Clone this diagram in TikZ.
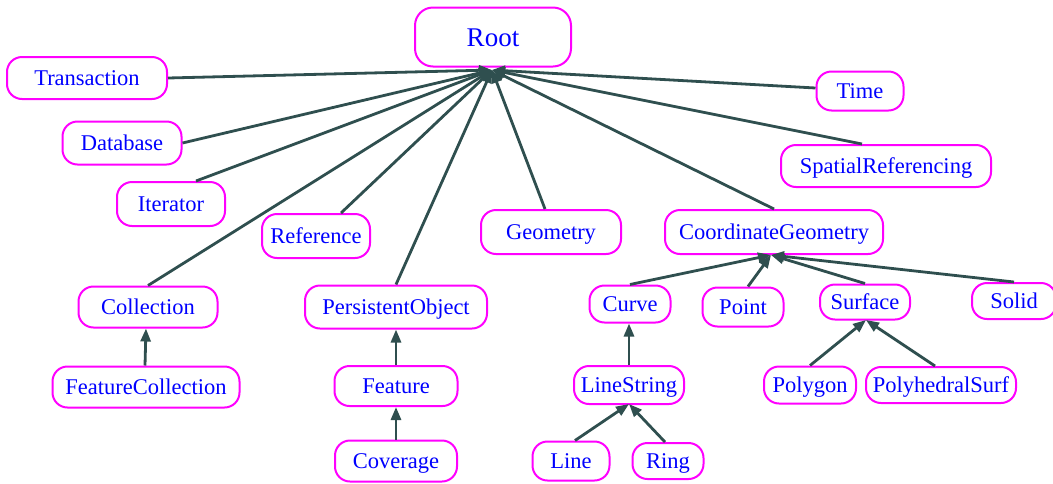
\documentclass[tikz,border=0pt]{standalone}
\usepackage{fontspec}
\setmainfont{Liberation Serif}
\usetikzlibrary{arrows.meta}
\definecolor{edgegray}{RGB}{47,79,79}
\definecolor{boxmagenta}{RGB}{255,0,255}
\definecolor{textblue}{RGB}{0,0,255}
\begin{document}
\begin{tikzpicture}[x=1pt,y=-1pt,
    cls/.style={draw=boxmagenta, line width=2pt, rounded corners=15pt, text=textblue,
      font=\fontsize{22.5}{24}\selectfont, inner sep=0pt, fill=white,
      text height=15pt, text depth=0pt},
    isa/.style={draw=edgegray, line width=2.8pt,
      -{Triangle[length=13pt,width=10pt]}}]
\useasboundingbox (0,0) rectangle (1053,483);
{
% Drawing class nodes
\node[cls, minimum width=156pt, minimum height=59pt, rounded corners=18pt,
  font=\fontsize{27}{30}\selectfont, text height=18pt] (root) at (493,37) {Root};
\node[cls, minimum width=160pt, minimum height=42pt] (transaction) at (87,78) {Transaction};
\node[cls, minimum width=87pt, minimum height=39pt] (time) at (860,91) {Time};
\node[cls, minimum width=119pt, minimum height=43pt] (database) at (122,143) {Database};
\node[cls, minimum width=210pt, minimum height=42pt] (spatialref) at (886,166) {SpatialReferencing};
\node[cls, minimum width=108pt, minimum height=44pt] (iterator) at (171,204) {Iterator};
\node[cls, minimum width=108pt, minimum height=44pt] (reference) at (316,236) {Reference};
\node[cls, minimum width=140pt, minimum height=44pt] (geometry) at (551,232) {Geometry};
\node[cls, minimum width=218pt, minimum height=44pt] (coordgeom) at (774,232) {CoordinateGeometry};
\node[cls, minimum width=139pt, minimum height=41pt] (collection) at (148,307) {Collection};
\node[cls, minimum width=182pt, minimum height=43pt] (persistent) at (396,307) {PersistentObject};
\node[cls, minimum width=81pt, minimum height=37pt] (curve) at (630,304) {Curve};
\node[cls, minimum width=81pt, minimum height=39pt] (point) at (743,307) {Point};
\node[cls, minimum width=90pt, minimum height=35pt] (surface) at (865,302) {Surface};
\node[cls, minimum width=84pt, minimum height=36pt] (solid) at (1014,301) {Solid};
\node[cls, minimum width=187pt, minimum height=41pt] (featurecoll) at (146,387) {FeatureCollection};
\node[cls, minimum width=123pt, minimum height=40pt] (feature) at (396,386) {Feature};
\node[cls, minimum width=110pt, minimum height=38pt] (linestring) at (629,385) {LineString};
\node[cls, minimum width=92pt, minimum height=37pt] (polygon) at (810,385) {Polygon};
\node[cls, minimum width=150pt, minimum height=36pt] (polysurf) at (941,385) {PolyhedralSurf};
\node[cls, minimum width=122pt, minimum height=41pt] (coverage) at (396,461) {Coverage};
\node[cls, minimum width=77pt, minimum height=39pt] (line) at (571,461) {Line};
\node[cls, minimum width=71pt, minimum height=36pt] (ring) at (668,461) {Ring};

% Drawing edges into Root
\coordinate (rootin) at (492,70);
\draw[isa] (transaction.east) -- (rootin);
\draw[isa] (database.east) -- (rootin);
\draw[isa] (iterator.north east) ++(-30,0) -- (rootin);
\draw[isa] (reference.north east) ++(-30,0) -- (rootin);
\draw[isa] (collection.north) -- (rootin);
\draw[isa] (persistent.north) -- (rootin);
\draw[isa] (geometry.north) ++(-6,0) -- (rootin);
\draw[isa] (coordgeom.north) -- (rootin);
\draw[isa] (spatialref.north) ++(-24,0) -- (rootin);
\draw[isa] (time.west) ++(0,-3) -- (rootin);

% Drawing edges into CoordinateGeometry
\coordinate (coordin) at (771,255);
\draw[isa] (curve.north) -- (coordin);
\draw[isa] (point.north) ++(5,0) -- (coordin);
\draw[isa] (surface.north) -- (coordin);
\draw[isa] (solid.north) -- (coordin);

% Drawing remaining edges
\draw[isa] (featurecoll.north) ++(-1,0) -- (collection.south -| featurecoll.north);
\draw[isa] (feature.north) -- (persistent.south);
\draw[isa] (coverage.north) -- (feature.south);
\draw[isa] (linestring.north) -- (curve.south -| linestring.north);
\coordinate (lsin) at (629,404);
\draw[isa] (line.north) ++(4,0) -- (lsin);
\draw[isa] (ring.north) ++(-3,0) -- (lsin);
\coordinate (surfin) at (866,320);
\draw[isa] (polygon.north) -- (surfin);
\draw[isa] (polysurf.north) ++(-6,0) -- (surfin);
}
\end{tikzpicture}
\end{document}
